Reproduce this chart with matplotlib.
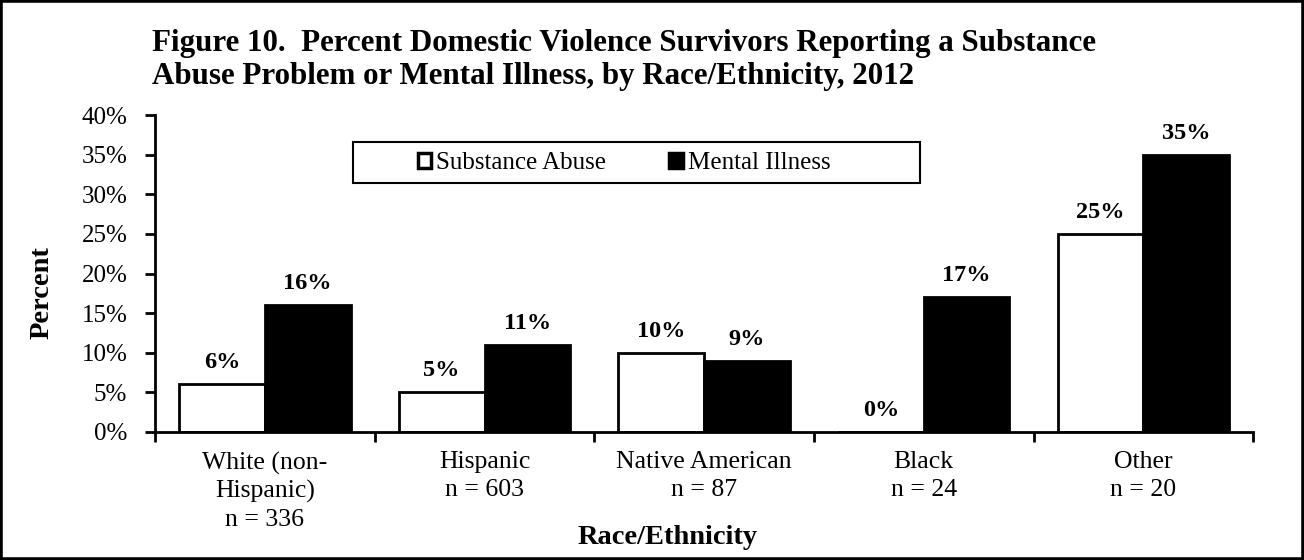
"""
Figure 10 - substance abuse / mental illness by race/ethnicity, 2012
"""
import numpy as np
import matplotlib.pyplot as plt
from matplotlib.patches import Rectangle

plt.rcParams['font.family'] = ['Liberation Serif', 'DejaVu Serif']

categories = ['White (non-\nHispanic)\nn = 336', 'Hispanic\nn = 603',
              'Native American\nn = 87', 'Black\nn = 24', 'Other\nn = 20']
substance_abuse = [6, 5, 10, 0, 25]
mental_illness = [16, 11, 9, 17, 35]
y_ticks = [0, 5, 10, 15, 20, 25, 30, 35, 40]

fig = plt.figure(figsize=(13.04, 5.60), dpi=100)
ax = fig.add_axes([0.1189, 0.2286, 0.8422, 0.566])

x = np.arange(len(categories))
w = 0.39
b1 = ax.bar(x - w/2, substance_abuse, w, color='white', edgecolor='black',
            linewidth=2, label='Substance Abuse')
b2 = ax.bar(x + w/2, mental_illness, w, color='black', edgecolor='black',
            linewidth=2, label='Mental Illness')

for bars in (b1, b2):
    for r in bars:
        h = r.get_height()
        ax.annotate(f'{h:.0f}%', (r.get_x() + r.get_width()/2, h),
                    xytext=(0, 8), textcoords='offset points',
                    ha='center', va='bottom', fontsize=17.5, fontweight='bold')

ax.set_xlim(-0.5, len(categories) - 0.5)
ax.set_ylim(0, 40)
ax.set_yticks(y_ticks)
ax.set_yticklabels([f'{t}%' for t in y_ticks], fontsize=18)
ax.set_xticks(x)
ax.set_xticklabels(categories, fontsize=18.5, linespacing=1.32)
ax.set_xticks(np.arange(len(categories) + 1) - 0.5, minor=True)
ax.tick_params(axis='x', which='major', length=0, pad=14)
ax.tick_params(axis='x', which='minor', length=7, width=2, direction='out')
ax.tick_params(axis='y', length=7, width=2, direction='out', pad=13)

for s in ('top', 'right'):
    ax.spines[s].set_visible(False)
for s in ('left', 'bottom'):
    ax.spines[s].set_linewidth(2)

fig.text(0.032, 0.477, 'Percent', rotation=90, fontsize=20.5, fontweight='bold',
         ha='center', va='center')
fig.text(0.512, 0.04, 'Race/Ethnicity', fontsize=20.5, fontweight='bold',
         ha='center', va='center')

# legend frame drawn separately (fixed-size box like the original)
ax.add_patch(Rectangle((0.1803, 0.785), 0.5164, 0.13, transform=ax.transAxes,
                       fill=False, edgecolor='black', linewidth=1.5,
                       clip_on=False, zorder=5))
leg = ax.legend(loc='center', bbox_to_anchor=(0.427, 0.848), ncol=2,
                fontsize=18, frameon=False,
                handlelength=0.55, handleheight=0.55, handletextpad=0.2,
                columnspacing=2.5, borderpad=0, borderaxespad=0)
for h in leg.legend_handles:
    h.set_linewidth(2.5)

fig.text(0.1166, 0.893, 'Figure 10.  Percent Domestic Violence Survivors Reporting a Substance\n'
         'Abuse Problem or Mental Illness, by Race/Ethnicity, 2012',
         fontsize=22.3, fontweight='bold', ha='left', va='center', linespacing=1.22)

fig.patches.append(Rectangle((0, 0), 1, 1, transform=fig.transFigure,
                             fill=False, edgecolor='black', linewidth=4))

fig.savefig('out.png', dpi=100)
